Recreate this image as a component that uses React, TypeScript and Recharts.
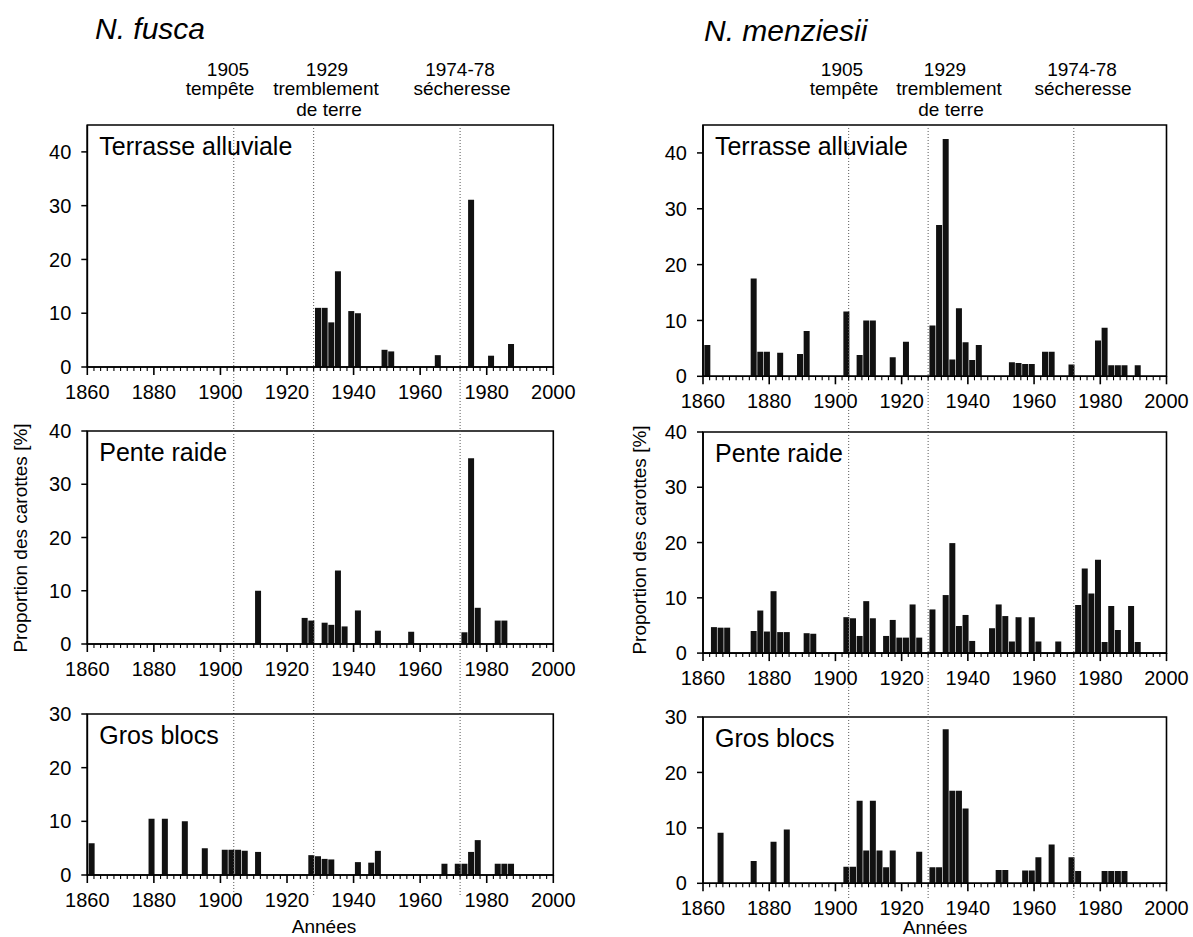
import React from 'react';
import { BarChart, Bar, XAxis, YAxis, ReferenceLine, ReferenceArea } from 'recharts';

const FONT = '"Liberation Sans", Arial, Helvetica, sans-serif';

// ---- axis / event data ----
const xTicks: number[] = [1860, 1862, 1864, 1866, 1868, 1870, 1872, 1874, 1876, 1878, 1880, 1882, 1884, 1886, 1888, 1890, 1892, 1894, 1896, 1898, 1900, 1902, 1904, 1906, 1908, 1910, 1912, 1914, 1916, 1918, 1920, 1922, 1924, 1926, 1928, 1930, 1932, 1934, 1936, 1938, 1940, 1942, 1944, 1946, 1948, 1950, 1952, 1954, 1956, 1958, 1960, 1962, 1964, 1966, 1968, 1970, 1972, 1974, 1976, 1978, 1980, 1982, 1984, 1986, 1988, 1990, 1992, 1994, 1996, 1998, 2000];
const majorEvery = 20;
const eventYears = [1904, 1928, 1972];
const ticks45 = [0, 10, 20, 30, 40];
const ticks40 = [0, 10, 20, 30, 40];
const ticks30 = [0, 10, 20, 30];

// ---- N. fusca ----
const fuscaTerrasseYears = [1929, 1931, 1933, 1935, 1939, 1941, 1949, 1951, 1965, 1975, 1981, 1987];
const fuscaTerrasseValues = [11.0, 11.0, 8.3, 17.8, 10.4, 10.0, 3.2, 2.9, 2.2, 31.1, 2.1, 4.3];

const fuscaPenteYears = [1911, 1925, 1927, 1931, 1933, 1935, 1937, 1941, 1947, 1957, 1973, 1975, 1977, 1983, 1985];
const fuscaPenteValues = [10.0, 4.9, 4.4, 4.0, 3.6, 13.8, 3.3, 6.3, 2.5, 2.3, 2.2, 34.9, 6.8, 4.4, 4.4];

const fuscaBlocsYears = [1861, 1879, 1883, 1889, 1895, 1901, 1903, 1905, 1907, 1911, 1927, 1929, 1931, 1933, 1941, 1945, 1947, 1967, 1971, 1973, 1975, 1977, 1983, 1985, 1987];
const fuscaBlocsValues = [5.9, 10.5, 10.5, 10.0, 5.0, 4.7, 4.7, 4.7, 4.5, 4.3, 3.7, 3.5, 3.0, 2.9, 2.4, 2.3, 4.5, 2.1, 2.1, 2.1, 4.3, 6.5, 2.1, 2.1, 2.1];

// ---- N. menziesii ----
const menzTerrasseYears = [1861, 1875, 1877, 1879, 1883, 1889, 1891, 1903, 1907, 1909, 1911, 1917, 1921, 1929, 1931, 1933, 1935, 1937, 1939, 1941, 1943, 1953, 1955, 1957, 1959, 1963, 1965, 1971, 1979, 1981, 1983, 1985, 1987, 1991];
const menzTerrasseValues = [5.6, 17.5, 4.4, 4.4, 4.2, 4.0, 8.1, 11.6, 3.8, 10.0, 10.0, 3.4, 6.2, 9.1, 27.1, 42.5, 3.0, 12.2, 6.1, 2.9, 5.6, 2.5, 2.4, 2.2, 2.2, 4.4, 4.4, 2.1, 6.4, 8.7, 2.0, 2.0, 2.0, 2.0];

const menzPenteYears = [1863, 1865, 1867, 1875, 1877, 1879, 1881, 1883, 1885, 1891, 1893, 1903, 1905, 1907, 1909, 1911, 1915, 1917, 1919, 1921, 1923, 1925, 1929, 1933, 1935, 1937, 1939, 1941, 1947, 1949, 1951, 1953, 1955, 1959, 1961, 1967, 1973, 1975, 1977, 1979, 1981, 1983, 1985, 1989, 1991];
const menzPenteValues = [4.7, 4.6, 4.6, 4.0, 7.7, 3.9, 11.2, 3.8, 3.8, 3.6, 3.5, 6.5, 6.3, 3.1, 9.4, 6.3, 3.1, 6.0, 2.8, 2.8, 8.8, 2.8, 7.9, 10.5, 19.9, 4.9, 6.9, 2.2, 4.5, 8.8, 6.7, 2.1, 6.5, 6.5, 2.1, 2.1, 8.7, 15.3, 10.8, 16.9, 2.0, 8.5, 4.2, 8.5, 2.0];

const menzBlocsYears = [1865, 1875, 1881, 1885, 1903, 1905, 1907, 1909, 1911, 1913, 1915, 1917, 1925, 1929, 1931, 1933, 1935, 1937, 1939, 1949, 1951, 1957, 1959, 1961, 1965, 1971, 1973, 1981, 1983, 1985, 1987];
const menzBlocsValues = [9.1, 4.0, 7.5, 9.7, 3.0, 3.0, 14.9, 5.9, 14.9, 5.9, 2.9, 5.9, 5.7, 2.9, 2.9, 27.8, 16.7, 16.7, 13.5, 2.4, 2.4, 2.3, 2.3, 4.7, 7.0, 4.7, 2.2, 2.2, 2.2, 2.2, 2.2];

const TICK_SIZE = 8;
const TICK_MARGIN = 10;

const XTick = (props: any) => {
  const { x, y, payload } = props;
  const v = payload.value as number;
  const major = v % majorEvery === 0;
  const axisY = y - TICK_SIZE - TICK_MARGIN;
  return (
    <g>
      <line x1={x} x2={x} y1={axisY} y2={axisY + (major ? 8 : 4)} stroke="#000" strokeWidth={major ? 1.6 : 1.1} />
      {major && (
        <text x={x} y={y} dy="0.71em" textAnchor="middle" fontSize={20} fontFamily={FONT} fill="#000">
          {v}
        </text>
      )}
    </g>
  );
};

const makeDotted = (extend: number) => (p: any) => {
  const top = Math.min(p.y1, p.y2);
  const bot = Math.max(p.y1, p.y2) + extend;
  return <line x1={p.x1} x2={p.x2} y1={top} y2={bot} stroke="#555" strokeWidth={1} strokeDasharray="1 2" />;
};

type PanelProps = {
  left: number;
  yAxisWidth: number;
  plotWidth: number;
  marginRight: number;
  plotTop: number;
  plotHeight: number;
  yMax: number;
  yTicks: number[];
  years: number[];
  values: number[];
  title: string;
  extendBelow: number;
};

function Panel(p: PanelProps) {
  const data = p.years.map((y, i) => ({ year: y, v: p.values[i] }));
  const marginTop = 20;
  const xAxisH = 80;
  const H = marginTop + p.plotHeight + xAxisH;
  const W = p.yAxisWidth + p.plotWidth + p.marginRight;
  return (
    <div style={{ position: 'absolute', left: p.left, top: p.plotTop - marginTop }}>
      <BarChart width={W} height={H} data={data} margin={{ top: marginTop, right: p.marginRight, bottom: 0, left: 0 }}>
        <XAxis
          dataKey={(d: any) => d.year + 0.4}
          type="number"
          domain={[1860, 2000]}
          ticks={xTicks}
          interval={0}
          tickLine={false}
          tickSize={TICK_SIZE}
          tickMargin={TICK_MARGIN}
          height={xAxisH}
          axisLine={{ stroke: '#000', strokeWidth: 1.6 }}
          tick={<XTick />}
          allowDataOverflow
        />
        <YAxis
          type="number"
          domain={[0, p.yMax]}
          ticks={p.yTicks}
          interval={0}
          width={p.yAxisWidth}
          tickSize={6}
          tickMargin={10}
          axisLine={{ stroke: '#000', strokeWidth: 1.6 }}
          tickLine={{ stroke: '#000', strokeWidth: 1.5 }}
          tick={{ fontSize: 20, fill: '#000', fontFamily: FONT }}
          allowDataOverflow
        />
        <ReferenceArea
          x1={1860}
          x2={2000}
          y1={0}
          y2={p.yMax}
          fill="none"
          fillOpacity={0}
          stroke="#000"
          strokeWidth={1.6}
          ifOverflow="visible"
          label={{ value: p.title, position: 'insideTopLeft', offset: 12, fontSize: 25, fill: '#000', fontFamily: FONT }}
        />
        {eventYears.map((ey) => (
          <ReferenceLine key={ey} x={ey} ifOverflow="visible" shape={makeDotted(p.extendBelow)} />
        ))}
        <Bar dataKey="v" fill="#111" barSize={6} isAnimationActive={false} />
      </BarChart>
    </div>
  );
}

const LEFT = { left: 0, yAxisWidth: 87.3, plotWidth: 466, marginRight: 34 };
const RIGHT = { left: 603, yAxisWidth: 100, plotWidth: 463.5, marginRight: 26 };

export default function App() {
  return (
    <div style={{ position: 'absolute', left: 0, top: 0, width: 1193, height: 937, background: '#fff', overflow: 'hidden', fontFamily: FONT }}>
      <Panel {...LEFT} plotTop={125} plotHeight={242} yMax={45} yTicks={ticks45} years={fuscaTerrasseYears} values={fuscaTerrasseValues} title="Terrasse alluviale" extendBelow={64} />
      <Panel {...LEFT} plotTop={430.7} plotHeight={213} yMax={40} yTicks={ticks40} years={fuscaPenteYears} values={fuscaPenteValues} title="Pente raide" extendBelow={70.6} />
      <Panel {...LEFT} plotTop={714.3} plotHeight={161} yMax={30} yTicks={ticks30} years={fuscaBlocsYears} values={fuscaBlocsValues} title="Gros blocs" extendBelow={22} />

      <Panel {...RIGHT} plotTop={125.2} plotHeight={251.3} yMax={45} yTicks={ticks45} years={menzTerrasseYears} values={menzTerrasseValues} title="Terrasse alluviale" extendBelow={55.5} />
      <Panel {...RIGHT} plotTop={432} plotHeight={221.1} yMax={40} yTicks={ticks40} years={menzPenteYears} values={menzPenteValues} title="Pente raide" extendBelow={63.7} />
      <Panel {...RIGHT} plotTop={716.8} plotHeight={166.3} yMax={30} yTicks={ticks30} years={menzBlocsYears} values={menzBlocsValues} title="Gros blocs" extendBelow={15} />

      <svg width={1193} height={937} style={{ position: 'absolute', left: 0, top: 0, pointerEvents: 'none' }}>
        <g fontFamily={FONT} fill="#000">
          <text x={95} y={39} fontSize={30} fontStyle="italic">N. fusca</text>
          <text x={704} y={41} fontSize={30} fontStyle="italic">N. menziesii</text>

          <g fontSize={19} textAnchor="middle">
            <text x={228} y={76}>1905</text>
            <text x={220} y={95}>tempête</text>
            <text x={327} y={76}>1929</text>
            <text x={326} y={95}>tremblement</text>
            <text x={329} y={116}>de terre</text>
            <text x={460} y={76}>1974-78</text>
            <text x={462} y={95}>sécheresse</text>

            <text x={842} y={76}>1905</text>
            <text x={844} y={95}>tempête</text>
            <text x={945} y={76}>1929</text>
            <text x={949} y={95}>tremblement</text>
            <text x={951} y={116}>de terre</text>
            <text x={1082} y={76}>1974-78</text>
            <text x={1083} y={95}>sécheresse</text>
          </g>

          <text x={0} y={0} fontSize={19} textAnchor="middle" transform="translate(27 538) rotate(-90)">Proportion des carottes [%]</text>
          <text x={0} y={0} fontSize={19} textAnchor="middle" transform="translate(646 540) rotate(-90)">Proportion des carottes [%]</text>

          <text x={324} y={933} fontSize={19} textAnchor="middle">Années</text>
          <text x={935} y={934} fontSize={19} textAnchor="middle">Années</text>
        </g>
      </svg>
    </div>
  );
}
